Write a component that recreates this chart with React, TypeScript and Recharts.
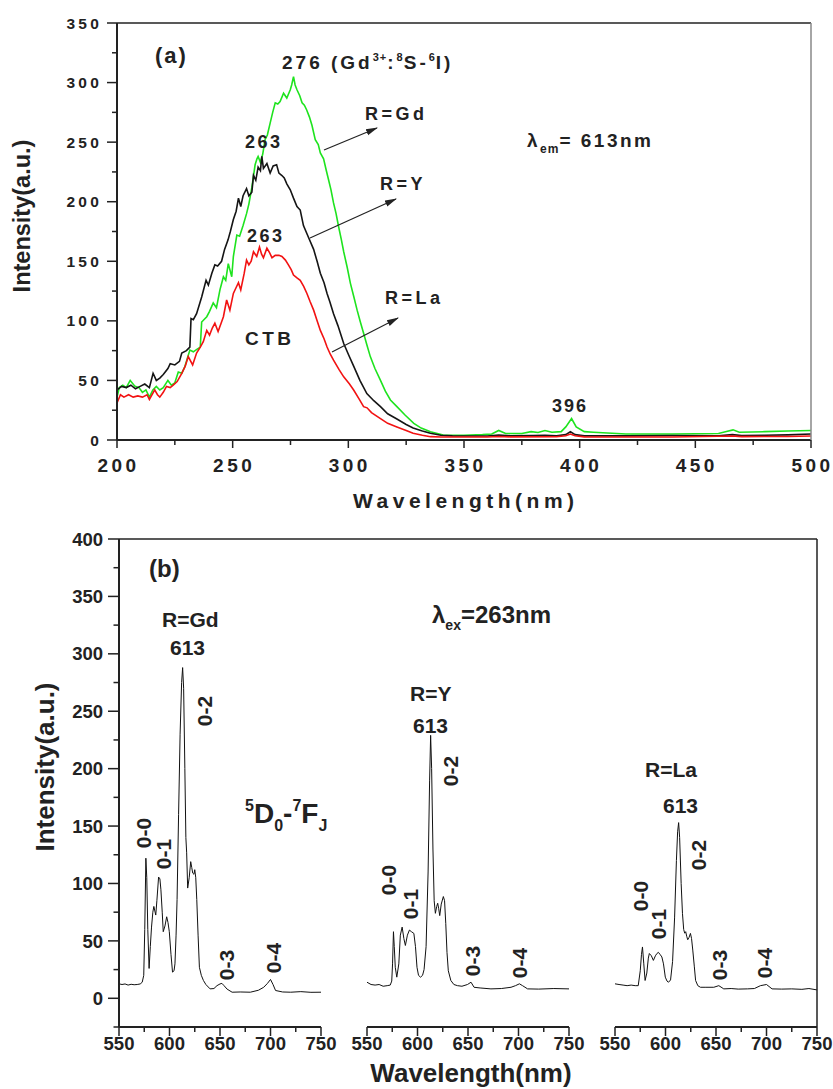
import React from 'react';
import { LineChart, Line, XAxis, YAxis } from 'recharts';

const FONT = '"Liberation Sans", Arial, Helvetica, sans-serif';
const INK = '#222';

// (a) excitation spectra, monitored at 613 nm
const gdExWl = [200, 201, 202.5, 204, 205.7, 207.8, 209.5, 211, 212.5, 214, 215.5, 217, 218.5, 220, 222, 223.5, 225, 226.5, 228, 229.3, 231.5, 233, 234.5, 236, 236.6, 238.8, 240, 241.6, 243, 244.5, 246, 247, 248.1, 249.6, 250.3, 251.8, 253, 254.5, 256, 257, 258.3, 259.7, 260.5, 261, 262, 263, 264, 265, 266.2, 267.3, 268.4, 269.5, 270.5, 272, 273.4, 274.9, 275.5, 276.3, 277, 277.8, 279, 280, 281, 282, 283.2, 284.3, 285.7, 287, 287.9, 289.3, 290.5, 291.5, 292.5, 293.6, 294.7, 295.8, 297, 298, 299.5, 300.9, 302.4, 303.8, 305.2, 306.6, 308, 309.5, 311.5, 313.9, 316, 318.2, 321, 324.5, 328.3, 331.5, 335.5, 341, 350, 358, 362, 365, 368, 375, 379, 382, 385, 388, 392, 394, 396.5, 398.5, 402, 406, 420, 440, 460, 463, 466.3, 469, 480, 490, 500];
const gdExInt = [36, 44, 46, 44, 50, 45, 44, 40, 42, 36, 42, 45, 42, 44, 50, 46, 48, 57, 56, 61.5, 75.5, 74, 76, 78, 99, 103.5, 108, 115, 111, 126, 137, 134, 148, 137, 154, 172, 171, 180, 190, 198, 212, 231, 236, 238, 233, 240, 252, 256, 266, 275, 283, 282, 284, 291, 287, 294, 298, 305, 298, 294, 289, 283, 281, 277, 271, 264, 252, 248, 241, 236, 226, 218, 210, 199, 190, 179, 168, 158, 145, 131.5, 120, 109, 99, 89.6, 80, 70, 60, 50, 41, 33.6, 28, 21, 14, 10, 7, 4.2, 4, 4.5, 5, 8, 5.5, 5.5, 7, 6.3, 8, 6.5, 7, 11, 18, 11, 7, 6.5, 5, 5, 5.5, 7, 8.5, 6.5, 7, 7.5, 8];

const yExWl = [200, 202, 204, 206, 208, 210, 212, 214, 215.6, 217, 218.5, 220, 222, 223, 225, 227, 228, 230, 231.5, 232, 233, 234.4, 236.6, 238.5, 239.5, 241, 242.3, 243.5, 245.2, 246.5, 248, 249, 250.3, 251.5, 252.5, 253.5, 254.5, 256, 257, 258.3, 259, 260, 261, 262, 262.6, 263.3, 264.8, 266.2, 267.5, 269, 270, 271.3, 272.3, 273.4, 274.9, 276.3, 277.8, 279.2, 280.6, 282.8, 285, 286.5, 287.9, 289.5, 290.8, 292, 293.6, 295.5, 298, 300, 302.3, 305, 308, 311, 313.9, 317, 321, 325, 328, 332, 335.5, 340, 345, 350, 360, 365, 370, 380, 385, 390, 394, 396, 398, 402, 420, 440, 460, 466, 470, 480, 490, 500];
const yExInt = [42, 45, 44, 46, 43, 45, 47, 44, 56, 50, 52, 55, 60, 64, 63, 66, 73, 75, 78, 102, 101, 106, 120, 134, 130, 140, 147, 146, 150, 160, 168, 175, 185, 192, 203, 196, 205, 211, 205, 208, 222, 218, 229, 226, 238, 228, 232, 224, 230, 231, 224, 222, 220, 215, 210, 203, 196, 193, 180, 170, 160, 150, 140, 132, 123, 116, 106, 96, 81, 72, 62, 50, 39, 33, 28, 22, 17.6, 13, 10, 7.5, 5.6, 4, 3.5, 3.4, 3.3, 4.2, 3.5, 3.8, 4, 3.6, 4.5, 7, 4.5, 3.5, 3.5, 3.8, 3.6, 4.5, 3.8, 4, 4.3, 5];

const laExWl = [200, 201.5, 203, 205, 207, 209, 211, 213, 214, 216.3, 217.5, 218.5, 220, 221.4, 223, 224.3, 226, 228, 229.5, 230.8, 232.7, 234.4, 236, 237.3, 238.8, 240, 241.2, 242.3, 243.7, 245, 246, 247.4, 248.8, 250.3, 251.5, 252.5, 253.5, 255, 256, 257, 258, 259, 260.4, 261.6, 262.5, 263.3, 264.8, 266, 267, 268.4, 270, 271.3, 272.8, 274.1, 275.3, 276.3, 277.8, 279.2, 280.7, 282.1, 283.5, 285, 286.5, 287.9, 289.5, 290.8, 292.2, 293.6, 296, 298, 300.5, 302.3, 304.5, 306.6, 308.1, 310, 313.9, 317, 321, 325, 328, 332, 335.5, 340, 360, 365, 370, 390, 394, 396, 398, 402, 440, 466, 470, 490, 500];
const laExInt = [31, 38, 36, 38, 36, 37, 36, 38, 34, 42, 38, 36, 40, 45, 44, 46, 49, 56, 62, 70, 63, 73, 78, 82.5, 92, 88, 94, 98, 91, 98, 103.5, 117.5, 109, 123, 128, 132, 126, 140, 151, 147, 150, 158, 154, 162, 156, 153, 161, 157, 153, 155, 155, 154, 151, 147, 143, 138.5, 136, 134, 129, 123, 116, 109, 100, 92, 85, 78, 72, 67, 59, 53, 47, 42, 35, 28, 27, 23, 18, 14, 11, 8, 5.6, 4, 2.8, 2.5, 2.5, 3, 2.6, 2.7, 3.5, 5, 3.5, 2.6, 2.5, 3.4, 2.8, 3, 3.4];

const aXTicks = [200, 225, 250, 275, 300, 325, 350, 375, 400, 425, 450, 475, 500];
const aYTicks = [0, 25, 50, 75, 100, 125, 150, 175, 200, 225, 250, 275, 300, 325, 350];

// (b) emission spectra, excited at 263 nm
const gdEmWl = [550, 553, 556, 559, 562, 565, 568, 571, 573, 574.5, 575.5, 576.6, 577.5, 578.5, 579.8, 581, 582.2, 583.5, 584.5, 585.5, 586.4, 587.5, 589.2, 590.5, 591.5, 592.8, 593.8, 595.5, 597.2, 598.5, 599.8, 601.5, 603, 604.5, 605.4, 606.5, 607.5, 609, 610.5, 612, 613, 614, 615.2, 616.2, 617, 618, 619.5, 621, 622, 623, 624.2, 625, 626, 627, 628.3, 629.6, 631.5, 633.6, 636, 640.2, 644, 647, 650, 651.9, 654, 657, 662, 670, 680, 688, 693.3, 697, 700, 702.5, 705, 712, 720, 730, 740, 750];
const gdEmInt = [12.6, 12, 12.5, 11.5, 12.2, 11.8, 12, 12.5, 14, 20, 60, 122, 105, 60, 26, 45, 62, 75, 80, 76, 72.5, 85, 105.6, 104, 94.5, 75, 58, 63, 71, 66, 58, 38, 22.8, 24, 30, 55, 86, 160, 230, 275, 288, 270, 200, 140, 126.7, 96, 105, 119, 114, 109, 108, 112, 105, 86, 55, 27, 20, 15.5, 12, 8.2, 8.5, 11, 12.5, 13, 11, 8, 5.3, 5.5, 5.3, 7, 9.6, 13, 16.4, 12, 6.8, 5.5, 5.3, 5.8, 5.2, 5.3];

const yEmWl = [550, 554, 558, 562, 566, 570, 573, 574.5, 575.3, 576.2, 577, 578, 579.5, 581.5, 583, 584.8, 586.5, 588, 590, 592, 594, 596.4, 598, 599.5, 601, 603, 605, 606.5, 608.5, 610.5, 612, 613, 614, 615.3, 616.5, 617.7, 619, 620, 621, 622, 623.5, 625.6, 626.8, 628, 629.2, 630.5, 633, 636, 639.6, 644, 649.5, 653, 656, 662, 672.7, 683, 692.6, 697, 700.9, 704, 709, 720, 735, 750];
const yEmInt = [14, 12, 11.5, 12, 10.5, 11, 11.5, 15, 30, 58, 45, 27, 18.4, 30, 55, 62, 52, 46, 55, 59.4, 58, 56.5, 45, 27, 20, 18.4, 20, 25, 45, 110, 190, 229, 200, 130, 85, 74, 80, 82.8, 78, 72, 82, 88.6, 85, 65, 40, 24, 15.5, 12, 11, 10.5, 12, 14, 9.6, 9, 8.2, 8.5, 9.6, 11, 12.6, 11, 8.2, 8, 8.5, 8.2];

const laEmWl = [550, 554, 558, 562, 566, 570, 573, 575, 576.2, 577.2, 578.5, 579.8, 581.5, 583, 584, 586, 588, 590, 591.5, 593, 594.8, 596.4, 598, 599.8, 601.5, 603, 605, 607, 609, 610.8, 612, 613, 614, 615.5, 616.8, 618, 619, 620, 621, 622, 623.3, 624.7, 625.8, 627, 628.5, 629.8, 632, 634.6, 640, 647.8, 652.8, 657.7, 665, 672, 681, 688, 694, 700, 705.5, 715, 725, 735, 742, 750];
const laEmInt = [12.6, 12, 11.5, 11, 11.5, 11, 11, 24, 38, 44.7, 30, 15.5, 22, 35, 39, 37, 33, 37, 39, 40, 38, 36, 30, 18.4, 15, 14, 16, 32, 70, 120, 145, 153, 140, 100, 74, 60, 56.7, 58, 54, 51, 53, 56.5, 52, 42, 28, 15.5, 11, 9.6, 9.6, 9.6, 11, 8.2, 8.5, 8, 8.2, 8.5, 11, 12, 8.2, 8, 8.2, 7.8, 8.5, 7.3];

const bXTicks = [550, 575, 600, 625, 650, 675, 700, 725, 750];
const bYTicks = [-25, 0, 25, 50, 75, 100, 125, 150, 175, 200, 225, 250, 275, 300, 325, 350, 375, 400];

const pts = (wl: number[], v: number[]) => wl.map((x, i) => ({ x, y: v[i] }));

const txt = { fontFamily: FONT, fontWeight: 'bold' as const, fill: INK };
const boldStyle = (ls = 0) => ({ fontWeight: 700, fill: INK, letterSpacing: ls });

// ticks: tickSize/tickMargin are 0 so x/y land on the axis line
const TickAY = ({ x, y, payload }: any) => {
  const major = payload.value % 50 === 0;
  return (
    <g>
      <line x1={x} x2={x - (major ? 10 : 5)} y1={y} y2={y} stroke={INK} strokeWidth={1.5} />
      {major && (
        <text {...txt} x={x - 15} y={y} dy="0.36em" textAnchor="end" fontSize={15.5} style={boldStyle(3.2)}>
          {payload.value}
        </text>
      )}
    </g>
  );
};

const TickAX = ({ x, y, payload }: any) => {
  const major = payload.value % 50 === 0;
  return (
    <g>
      <line x1={x} x2={x} y1={y} y2={y + (major ? 8 : 5)} stroke={INK} strokeWidth={1.5} />
      {major && (
        <text {...txt} x={x + 1.5} y={y + 32} textAnchor="middle" fontSize={19} style={boldStyle(3.5)}>
          {payload.value}
        </text>
      )}
    </g>
  );
};

const TickBY = ({ x, y, payload }: any) => {
  const major = payload.value % 50 === 0;
  return (
    <g>
      <line x1={x} x2={x - (major ? 11 : 5.5)} y1={y} y2={y} stroke={INK} strokeWidth={1.5} />
      {major && (
        <text {...txt} x={x - 16} y={y} dy="0.36em" textAnchor="end" fontSize={18.5} style={boldStyle()}>
          {payload.value}
        </text>
      )}
    </g>
  );
};

const TickBX = ({ x, y, payload }: any) => {
  const major = payload.value % 50 === 0;
  return (
    <g>
      <line x1={x} x2={x} y1={y} y2={y + (major ? 9 : 5)} stroke={INK} strokeWidth={1.5} />
      {major && (
        <text {...txt} x={x} y={y + 23} textAnchor="middle" fontSize={18.5} style={boldStyle()}>
          {payload.value}
        </text>
      )}
    </g>
  );
};

const axisLine = { stroke: INK, strokeWidth: 2 };

// each emission sub-panel: plot area is 202 px wide, padLeft px from the div's left edge
function EmPanel({ data, left, width, padLeft, withY }: { data: any[]; left: number; width: number; padLeft: number; withY?: boolean }) {
  return (
    <div style={{ position: 'absolute', left, top: 520 }}>
      <LineChart width={width} height={569} margin={{ top: 19, right: width - padLeft - 202, left: withY ? 0 : padLeft, bottom: 0 }}>
        <XAxis type="number" dataKey="x" domain={[550, 750]} ticks={bXTicks} interval={0} allowDataOverflow
          tick={<TickBX />} tickLine={false} tickSize={0} tickMargin={0} axisLine={axisLine} height={62} />
        {withY ? (
          <YAxis type="number" domain={[-25, 400]} ticks={bYTicks} interval={0} allowDataOverflow width={padLeft}
            tick={<TickBY />} tickLine={false} tickSize={0} tickMargin={0} axisLine={axisLine} />
        ) : (
          <YAxis type="number" domain={[-25, 400]} allowDataOverflow hide />
        )}
        <Line data={data} dataKey="y" type="linear" stroke="#111" strokeWidth={1} dot={false} isAnimationActive={false} />
      </LineChart>
    </div>
  );
}

const Rot = ({ x, y, children, size = 21 }: any) => (
  <text {...txt} x={x} y={y} fontSize={size} textAnchor="middle" dominantBaseline="central" transform={`rotate(-90 ${x} ${y})`}>
    {children}
  </text>
);

export default function App() {
  const gdEx = pts(gdExWl, gdExInt);
  const yEx = pts(yExWl, yExInt);
  const laEx = pts(laExWl, laExInt);
  const sp = (n: number) => ({ letterSpacing: n });

  return (
    <div style={{ position: 'absolute', left: 0, top: 0, width: 833, height: 1089, background: '#fff' }}>
      <div style={{ position: 'absolute', left: 0, top: 0 }}>
        <LineChart width={833} height={520} margin={{ top: 23, right: 22, left: 0, bottom: 0 }}>
          <XAxis type="number" dataKey="x" domain={[200, 500]} ticks={aXTicks} interval={0} allowDataOverflow
            tick={<TickAX />} tickLine={false} tickSize={0} tickMargin={0} axisLine={axisLine} height={80} />
          <YAxis type="number" domain={[0, 350]} ticks={aYTicks} interval={0} allowDataOverflow width={117}
            tick={<TickAY />} tickLine={false} tickSize={0} tickMargin={0} axisLine={axisLine} />
          <Line data={gdEx} dataKey="y" name="R=Gd" type="linear" stroke="#1ee31e" strokeWidth={1.6} dot={false} isAnimationActive={false} />
          <Line data={yEx} dataKey="y" name="R=Y" type="linear" stroke="#151515" strokeWidth={1.6} dot={false} isAnimationActive={false} />
          <Line data={laEx} dataKey="y" name="R=La" type="linear" stroke="#f21212" strokeWidth={1.6} dot={false} isAnimationActive={false} />
        </LineChart>
      </div>

      <EmPanel data={pts(gdEmWl, gdEmInt)} left={0} width={345} padLeft={119} withY />
      <EmPanel data={pts(yEmWl, yEmInt)} left={340} width={250} padLeft={27} />
      <EmPanel data={pts(laEmWl, laEmInt)} left={588} width={245} padLeft={27} />

      <svg width={833} height={1089} style={{ position: 'absolute', left: 0, top: 0, pointerEvents: 'none' }}>
        <defs>
          <marker id="arr" markerWidth="12" markerHeight="8" refX="11" refY="4" orient="auto" markerUnits="userSpaceOnUse">
            <path d="M0,0.8 L12,4 L0,7.2 z" fill={INK} />
          </marker>
        </defs>

        {/* panel (a) frame */}
        <line x1={117} x2={811} y1={23} y2={23} stroke={INK} strokeWidth={1.5} />
        <line x1={811} x2={811} y1={23} y2={440} stroke="#888" strokeWidth={1.5} />

        <text {...txt} x={22} y={216} fontSize={23.5} textAnchor="middle" dominantBaseline="central" transform="rotate(-90 22 216)">Intensity(a.u.)</text>
        <text {...txt} x={353} y={508} fontSize={21} style={sp(4.5)}>Wavelength(nm)</text>

        <text {...txt} x={155} y={63} fontSize={22} style={sp(2)}>(a)</text>
        <text {...txt} x={282} y={69} fontSize={19} style={sp(3)}>
          276 (Gd<tspan fontSize={11} dy={-8} style={sp(1)}>3+</tspan><tspan dy={8}>:</tspan>
          <tspan fontSize={11} dy={-8} style={sp(1)}>8</tspan><tspan dy={8}>S-</tspan>
          <tspan fontSize={11} dy={-8} style={sp(1)}>6</tspan><tspan dy={8}>I)</tspan>
        </text>
        <text {...txt} x={365} y={120} fontSize={18} style={sp(3.5)}>R=Gd</text>
        <text {...txt} x={245} y={148} fontSize={18} style={sp(2.5)}>263</text>
        <text {...txt} x={380} y={190} fontSize={18} style={sp(3.5)}>R=Y</text>
        <text {...txt} x={247} y={242} fontSize={18} style={sp(2.5)}>263</text>
        <text {...txt} x={245} y={345} fontSize={19} style={sp(3.5)}>CTB</text>
        <text {...txt} x={385} y={304} fontSize={18} style={sp(3.5)}>R=La</text>
        <text {...txt} x={552} y={412} fontSize={18} style={sp(2)}>396</text>
        <text {...txt} x={527} y={147} fontSize={19} style={sp(2.5)}>
          λ<tspan fontSize={12} dy={6} style={sp(1)}>em</tspan><tspan dy={-6}>= 613nm</tspan>
        </text>
        <line x1={324} y1={150} x2={377} y2={128} stroke={INK} strokeWidth={1.2} markerEnd="url(#arr)" />
        <line x1={310} y1={238} x2={396} y2={199} stroke={INK} strokeWidth={1.2} markerEnd="url(#arr)" />
        <line x1={332} y1={352} x2={398} y2={318} stroke={INK} strokeWidth={1.2} markerEnd="url(#arr)" />

        {/* panel (b) frame */}
        <line x1={119} x2={817} y1={539} y2={539} stroke={INK} strokeWidth={1.5} />
        <line x1={817} x2={817} y1={539} y2={1027} stroke={INK} strokeWidth={1.5} />

        <text {...txt} x={44.5} y={767} fontSize={26} textAnchor="middle" dominantBaseline="central" transform="rotate(-90 44.5 767)">Intensity(a.u.)</text>
        <text {...txt} x={471} y={1082} fontSize={26} textAnchor="middle">Wavelength(nm)</text>

        <text {...txt} x={149} y={577} fontSize={24}>(b)</text>
        <text {...txt} x={432} y={623} fontSize={24}>
          λ<tspan fontSize={14} dy={7}>ex</tspan><tspan dy={-7}>=263nm</tspan>
        </text>

        <text {...txt} x={162} y={627} fontSize={21}>R=Gd</text>
        <text {...txt} x={170} y={655} fontSize={21}>613</text>
        <Rot x={204} y={711}>0-2</Rot>
        <Rot x={143} y={833}>0-0</Rot>
        <Rot x={163} y={854}>0-1</Rot>
        <Rot x={226} y={965}>0-3</Rot>
        <Rot x={273} y={958}>0-4</Rot>
        <text {...txt} x={245} y={823} fontSize={28}>
          <tspan fontSize={16} dy={-12}>5</tspan><tspan dy={12}>D</tspan><tspan fontSize={16} dy={8}>0</tspan>
          <tspan dy={-8}>-</tspan><tspan fontSize={16} dy={-12}>7</tspan><tspan dy={12}>F</tspan>
          <tspan fontSize={16} dy={8}>J</tspan>
        </text>

        <text {...txt} x={410} y={701} fontSize={21}>R=Y</text>
        <text {...txt} x={413} y={733} fontSize={21}>613</text>
        <Rot x={450} y={771}>0-2</Rot>
        <Rot x={388} y={880}>0-0</Rot>
        <Rot x={410} y={904}>0-1</Rot>
        <Rot x={472} y={961}>0-3</Rot>
        <Rot x={519} y={963}>0-4</Rot>

        <text {...txt} x={645} y={777} fontSize={21}>R=La</text>
        <text {...txt} x={663} y={813} fontSize={21}>613</text>
        <Rot x={698} y={855}>0-2</Rot>
        <Rot x={640} y={896}>0-0</Rot>
        <Rot x={658} y={924}>0-1</Rot>
        <Rot x={719} y={965}>0-3</Rot>
        <Rot x={764} y={963}>0-4</Rot>
      </svg>
    </div>
  );
}
